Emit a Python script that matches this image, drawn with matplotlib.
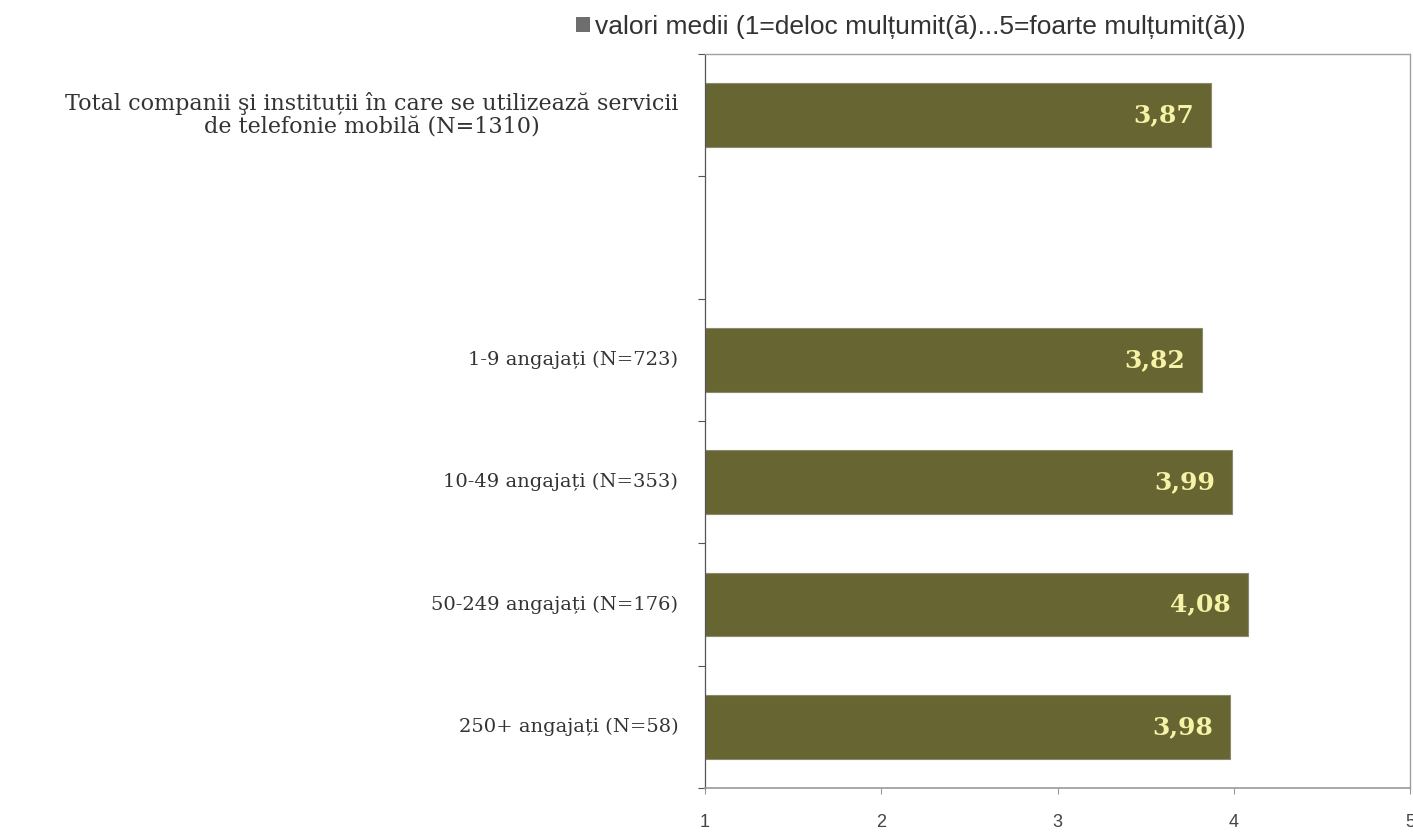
import matplotlib
matplotlib.use("Agg")
import matplotlib.pyplot as plt
from matplotlib.patches import Patch

categories = [
    "Total companii şi instituții în care se utilizează servicii\nde telefonie mobilă (N=1310)",
    "",
    "1-9 angajați (N=723)",
    "10-49 angajați (N=353)",
    "50-249 angajați (N=176)",
    "250+ angajați (N=58)",
]
values = [3.87, None, 3.82, 3.99, 4.08, 3.98]
value_labels = ["3,87", "", "3,82", "3,99", "4,08", "3,98"]
legend_label = "valori medii (1=deloc mulțumit(ă)...5=foarte mulțumit(ă))"
xticks = [1, 2, 3, 4, 5]

bar_color = "#676532"
text_color = "#f6f2a6"

fig = plt.figure(figsize=(14.13, 8.33), dpi=100)
ax = fig.add_axes([705 / 1413, 1 - 788 / 833, (1410 - 705) / 1413, (788 - 54) / 833])

n = len(categories)
for i, v in enumerate(values):
    if v is None:
        continue
    ax.barh(i, v - 1, left=1, height=0.52, color=bar_color, edgecolor="#8a8a70", linewidth=0.8)
    ax.annotate(value_labels[i], xy=(v, i), xytext=(-12, 0), textcoords="offset points",
                ha="right", va="center", color=text_color,
                fontsize=18, fontweight="bold", family="DejaVu Serif")

ax.set_xlim(1, 5)
ax.set_ylim(n - 0.5, -0.5)
ax.set_xticks(xticks)
ax.set_xticklabels([str(t) for t in xticks], fontsize=13, color="#444444",
                   family="Liberation Sans")
ax.tick_params(axis="x", length=4, width=0.8, color="#999999", pad=15, direction="out")

ax.set_yticks([i - 0.5 for i in range(n + 1)])
ax.set_yticklabels([])
ax.tick_params(axis="y", length=5, width=0.8, color="#555555", direction="out")
for i, c in enumerate(categories):
    if not c:
        continue
    ax.text(-0.038, i, c, transform=ax.get_yaxis_transform(), ha="right", va="center",
            multialignment="center", fontsize=16 if "\n" in c else 14,
            color="#333333", family="DejaVu Serif", linespacing=1.1)

for s in ["top", "right"]:
    ax.spines[s].set_color("#a0a0a0")
    ax.spines[s].set_linestyle((0, (1, 1)))
    ax.spines[s].set_linewidth(1.0)
ax.spines["left"].set_color("#555555")
ax.spines["left"].set_linestyle((0, (1, 1)))
ax.spines["left"].set_linewidth(0.9)
ax.spines["bottom"].set_color("#999999")
ax.spines["bottom"].set_linewidth(1.2)

handle = Patch(facecolor="#6e6e6e", edgecolor="none")
fig.legend([handle], [legend_label], loc="center", bbox_to_anchor=(911 / 1413, 1 - 27 / 833),
           frameon=False, handlelength=0.5, handleheight=0.5, handletextpad=0.2,
           prop={"family": "Liberation Sans", "size": 19}, labelcolor="#333333")

fig.savefig("out.png", dpi=100)
